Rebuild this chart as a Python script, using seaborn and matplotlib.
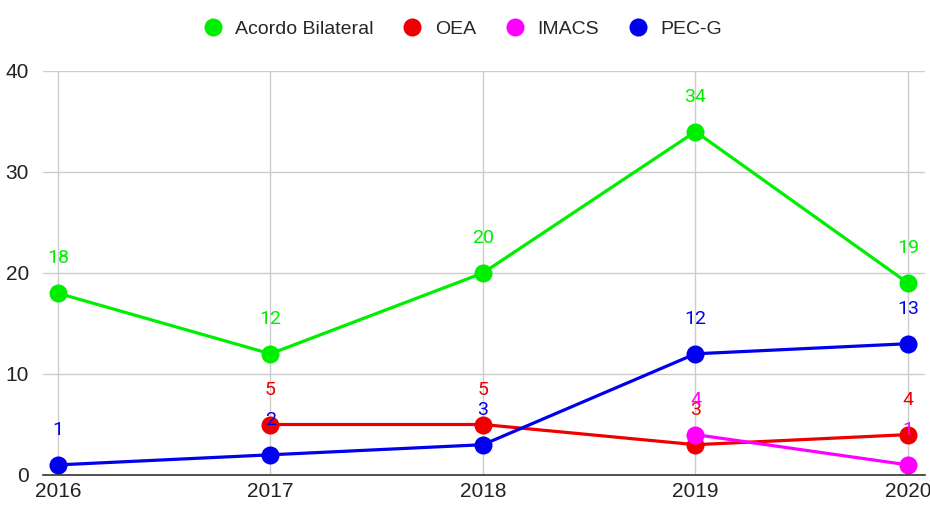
import numpy as np
import pandas as pd
import matplotlib
matplotlib.use('Agg')
import matplotlib.pyplot as plt
import seaborn as sns
from matplotlib.lines import Line2D

years = [2016, 2017, 2018, 2019, 2020]
acordo = [18, 12, 20, 34, 19]
oea = [np.nan, 5, 5, 3, 4]
imacs = [np.nan, np.nan, np.nan, 4, 1]
pecg = [1, 2, 3, 12, 13]

series = ['Acordo Bilateral', 'OEA', 'IMACS', 'PEC-G']
colors = {'Acordo Bilateral': '#00ee00', 'OEA': '#ee0000',
          'IMACS': '#ff00ff', 'PEC-G': '#0000ee'}

df = pd.DataFrame({'ano': years, 'Acordo Bilateral': acordo, 'OEA': oea,
                   'IMACS': imacs, 'PEC-G': pecg})
data = df.melt(id_vars='ano', var_name='serie', value_name='valor').dropna()

sns.set_style('white')
plt.rcParams['font.family'] = ['Liberation Sans', 'DejaVu Sans']

fig = plt.figure(figsize=(9.3, 5.05), dpi=100)
ax = fig.add_axes([43 / 930, 1 - 475 / 505, (925 - 43) / 930, (475 - 71) / 505])

for s in series:
    sub = data[data['serie'] == s]
    sns.lineplot(data=sub, x='ano', y='valor', color=colors[s], linewidth=2.3,
                 marker='o', markersize=13, markeredgewidth=0, ax=ax, legend=False)

for s in series:
    sub = data[data['serie'] == s]
    for x, y in zip(sub['ano'], sub['valor']):
        ax.annotate(f'{int(y)}', (x, y), xytext=(0, 25), textcoords='offset points',
                    ha='center', va='center', color=colors[s], fontsize=14,
                    family=['Roboto', 'DejaVu Sans'], zorder=10)

ax.set_xlim(2016 - 0.07, 2020 + 0.08)
ax.set_ylim(0, 40)
ax.set_xticks(years)
ax.set_yticks([0, 10, 20, 30, 40])
ax.grid(True, color='#cccccc', linewidth=1)
ax.set_axisbelow(True)
for sp in ['top', 'right', 'left']:
    ax.spines[sp].set_visible(False)
ax.spines['bottom'].set_color('#333333')
ax.spines['bottom'].set_linewidth(1.2)
ax.tick_params(axis='both', length=0, labelsize=15, colors='#222222', pad=5)
ax.tick_params(axis='y', pad=10)
ax.set_xlabel('')
ax.set_ylabel('')

handles = [Line2D([], [], linestyle='none', marker='o', markersize=13,
                  markeredgewidth=0, color=colors[s]) for s in series]
fig.legend(handles, series, loc='upper center', bbox_to_anchor=(0.492, 0.995),
           ncol=4, frameon=False, fontsize=14, handletextpad=0.15,
           columnspacing=1.0)

fig.savefig('out.png', dpi=100)
